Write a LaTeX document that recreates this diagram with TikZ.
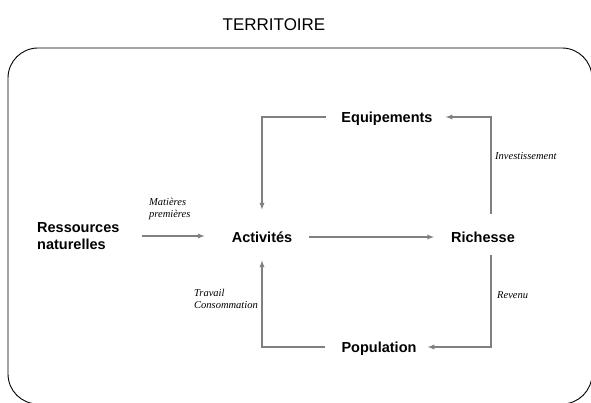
\documentclass[tikz,border=0pt]{standalone}
\usepackage{fontspec}
\setmainfont{Liberation Sans}
\newfontfamily\notefont{Liberation Serif}
\usetikzlibrary{arrows, calc}

\tikzset{
  poste/.style={font=\bfseries\fontsize{14.5}{17}\selectfont, inner sep=0pt, text height=10.5pt, text depth=0pt},
  note/.style={font=\notefont\itshape\fontsize{10.5}{11.5}\selectfont, inner sep=0pt, anchor=west, align=left},
  flux/.style={draw=gray, line width=1.3pt, -latex}
}

\begin{document}
\begin{tikzpicture}[x=1pt, y=-1pt]
            \useasboundingbox (0,0) rectangle (591,403);

            % le territoire
            \node (titre) at (274,25) {\fontsize{17}{20}\selectfont TERRITOIRE};
            \draw[black, line width=0.9pt, rounded corners=30pt] (8,48) rectangle (592,404);

            % les postes
            \node[poste, anchor=west, align=left, text height=, text depth=] (res) at (37,236) {Ressources\\naturelles};
            \node[poste] (act)   at (262,237) {Activités};
            \node[poste] (equip) at (387,117) {Equipements};
            \node[poste] (rich)  at (483,237) {Richesse};
            \node[poste] (pop)   at (379,347) {Population};

            % les flux
            \draw[flux, shorten <=22pt, shorten >=27pt] (res.east) -- (res.east -| act.west);
            \draw[flux, shorten <=17pt, shorten >=17pt] (act) -- (rich);
            \draw[flux, shorten <=15pt, shorten >=22pt] (equip.west) -| (act.north);
            \draw[flux, shorten <=18pt, shorten >=13pt] ([xshift=8pt]rich.north) |- (equip.east);
            \draw[flux, shorten <=13pt, shorten >=11pt] ([xshift=8pt]rich.south) |- (pop.east);
            \draw[flux, shorten <=16pt, shorten >=18pt] (pop.west) -| (act.south);

            % les legendes
            \node[note] (matieres) at (149,209) {Matières\\premières};
            \node[note] (travail)  at (194,299) {Travail\\Consommation};
            \node[note] (invest)   at (495,156) {Investissement};
            \node[note] (revenu)   at (497,295) {Revenu};
        \end{tikzpicture}
\end{document}
